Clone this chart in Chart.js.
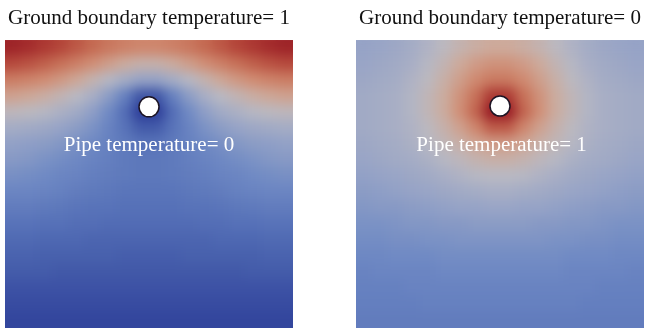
<!DOCTYPE html>
<html>
<head>
<meta charset="utf-8">
<script src="https://cdn.jsdelivr.net/npm/chart.js@4.4.0/dist/chart.umd.min.js"></script>
<style>
body { margin: 0; background: #fff; }
#wrap { position: relative; width: 645px; height: 329px; }
#wrap canvas { position: absolute; top: 0; }
</style>
</head>
<body>
<div id="wrap">
  <canvas id="left" width="322" height="329" style="left:0"></canvas>
  <canvas id="right" width="323" height="329" style="left:322px"></canvas>
</div>
<script>
var titles = ["Ground boundary temperature= 1", "Ground boundary temperature= 0"];
var pipeLabels = ["Pipe temperature= 0", "Pipe temperature= 1"];
var pipeX = [9.0, 9.0];
var pipeY = [4.17, 4.12];
var labelX = [9.0, 9.1];
var labelY = [6.95, 6.95];

// temperature on an 18 x 18 grid, row 0 = ground surface
var coldPipe = [
  [.97,.95,.92,.89,.85,.81,.77,.74,.72,.72,.74,.77,.81,.85,.89,.92,.95,.97],
  [.88,.86,.83,.79,.74,.69,.64,.59,.56,.56,.59,.64,.69,.74,.79,.83,.86,.88],
  [.75,.73,.70,.66,.61,.55,.49,.44,.40,.40,.44,.49,.55,.61,.66,.70,.73,.75],
  [.63,.61,.58,.54,.50,.45,.37,.26,.08,.08,.26,.37,.45,.50,.54,.58,.61,.63],
  [.52,.51,.49,.46,.43,.38,.30,.18,.00,.00,.18,.30,.38,.43,.46,.49,.51,.52],
  [.44,.43,.42,.40,.37,.33,.27,.20,.10,.10,.20,.27,.33,.37,.40,.42,.43,.44],
  [.39,.38,.37,.35,.32,.29,.26,.23,.20,.20,.23,.26,.29,.32,.35,.37,.38,.39],
  [.36,.35,.33,.31,.29,.27,.25,.23,.22,.22,.23,.25,.27,.29,.31,.33,.35,.36],
  [.32,.31,.30,.28,.27,.25,.24,.23,.22,.22,.23,.24,.25,.27,.28,.30,.31,.32],
  [.28,.28,.27,.26,.24,.23,.22,.21,.21,.21,.21,.22,.23,.24,.26,.27,.28,.28],
  [.24,.24,.23,.22,.21,.20,.20,.19,.19,.19,.19,.20,.20,.21,.22,.23,.24,.24],
  [.20,.20,.19,.19,.18,.18,.17,.17,.17,.17,.17,.17,.18,.18,.19,.19,.20,.20],
  [.16,.16,.15,.15,.15,.14,.14,.14,.14,.14,.14,.14,.14,.15,.15,.15,.16,.16],
  [.13,.13,.12,.12,.12,.12,.12,.11,.11,.11,.11,.12,.12,.12,.12,.12,.13,.13],
  [.10,.10,.10,.09,.09,.09,.09,.09,.09,.09,.09,.09,.09,.09,.09,.10,.10,.10],
  [.07,.07,.07,.07,.07,.07,.07,.07,.07,.07,.07,.07,.07,.07,.07,.07,.07,.07],
  [.05,.05,.05,.05,.05,.05,.05,.05,.05,.05,.05,.05,.05,.05,.05,.05,.05,.05],
  [.03,.03,.03,.03,.03,.03,.03,.03,.03,.03,.03,.03,.03,.03,.03,.03,.03,.03]
];

var hotPipe = [
  [.40,.41,.42,.44,.47,.51,.55,.58,.60,.60,.58,.55,.51,.47,.44,.42,.41,.40],
  [.41,.42,.43,.45,.49,.54,.60,.65,.68,.68,.65,.60,.54,.49,.45,.43,.42,.41],
  [.42,.43,.44,.47,.51,.57,.64,.71,.76,.76,.71,.64,.57,.51,.47,.44,.43,.42],
  [.43,.44,.45,.48,.53,.59,.68,.79,.92,.92,.79,.68,.59,.53,.48,.45,.44,.43],
  [.43,.44,.45,.48,.53,.59,.69,.82,1.0,1.0,.82,.69,.59,.53,.48,.45,.44,.43],
  [.43,.44,.45,.47,.51,.56,.63,.72,.84,.84,.72,.63,.56,.51,.47,.45,.44,.43],
  [.42,.43,.44,.46,.49,.53,.57,.62,.65,.65,.62,.57,.53,.49,.46,.44,.43,.42],
  [.41,.42,.43,.44,.46,.49,.52,.55,.57,.57,.55,.52,.49,.46,.44,.43,.42,.41],
  [.39,.40,.41,.42,.43,.45,.47,.49,.50,.50,.49,.47,.45,.43,.42,.41,.40,.39],
  [.37,.38,.39,.40,.41,.42,.43,.44,.45,.45,.44,.43,.42,.41,.40,.39,.38,.37],
  [.35,.36,.36,.37,.38,.39,.40,.40,.41,.41,.40,.40,.39,.38,.37,.36,.36,.35],
  [.33,.33,.34,.35,.35,.36,.36,.37,.37,.37,.37,.36,.36,.35,.35,.34,.33,.33],
  [.31,.31,.32,.32,.33,.33,.34,.34,.34,.34,.34,.34,.33,.33,.32,.32,.31,.31],
  [.29,.29,.30,.30,.30,.31,.31,.31,.31,.31,.31,.31,.31,.30,.30,.30,.29,.29],
  [.27,.28,.28,.28,.28,.29,.29,.29,.29,.29,.29,.29,.29,.28,.28,.28,.28,.27],
  [.26,.26,.26,.27,.27,.27,.27,.27,.27,.27,.27,.27,.27,.27,.27,.26,.26,.26],
  [.25,.25,.25,.25,.26,.26,.26,.26,.26,.26,.26,.26,.26,.26,.25,.25,.25,.25],
  [.24,.24,.24,.24,.24,.24,.24,.24,.24,.24,.24,.24,.24,.24,.24,.24,.24,.24]
];

// cool-to-warm colour ramp
var rampStops = [0, .1, .2, .3, .4, .5, .6, .7, .8, .9, 1];
var rampColors = [
  [44,60,152], [68,92,170], [88,115,185], [112,138,196], [150,163,198],
  [185,185,195], [205,170,155], [208,140,115], [198,110,85], [178,65,55], [150,25,35]
];

function colorOf(v) {
  for (var i = 1; i < rampStops.length; i++) {
    if (v <= rampStops[i]) {
      var f = (v - rampStops[i-1]) / (rampStops[i] - rampStops[i-1]);
      var a = rampColors[i-1], b = rampColors[i];
      return 'rgb(' + Math.round(a[0] + (b[0]-a[0])*f) + ',' + Math.round(a[1] + (b[1]-a[1])*f) + ',' + Math.round(a[2] + (b[2]-a[2])*f) + ')';
    }
  }
  var c = rampColors[rampColors.length-1];
  return 'rgb(' + c[0] + ',' + c[1] + ',' + c[2] + ')';
}

function cellPoints(field) {
  var pts = [];
  for (var r = 0; r < field.length; r++) {
    for (var c = 0; c < field[r].length; c++) {
      pts.push({x: c + 0.5, y: r + 0.5, v: field[r][c]});
    }
  }
  return pts;
}

// soften the cell edges so the field reads as a continuous solution
var smoothField = {
  id: 'smoothField',
  afterDatasetDraw: function(chart, args) {
    if (args.index !== 0) return;
    var a = chart.chartArea, ctx = chart.ctx, src = chart.canvas;
    var l = Math.round(a.left), t = Math.round(a.top);
    var w = Math.round(a.right - a.left), h = Math.round(a.bottom - a.top);
    var m = 16;
    var off = document.createElement('canvas');
    off.width = w + 2*m; off.height = h + 2*m;
    var o = off.getContext('2d');
    o.drawImage(src, l, t, w, h, m, m, w, h);
    o.drawImage(src, l, t, 1, h, 0, m, m, h);
    o.drawImage(src, l + w - 1, t, 1, h, m + w, m, m, h);
    o.drawImage(off, 0, m, w + 2*m, 1, 0, 0, w + 2*m, m);
    o.drawImage(off, 0, m + h - 1, w + 2*m, 1, 0, m + h, w + 2*m, m);
    ctx.save();
    ctx.beginPath();
    ctx.rect(l, t, w, h);
    ctx.clip();
    ctx.filter = 'blur(6px)';
    ctx.drawImage(off, l - m, t - m);
    ctx.restore();
  }
};

var pipeText = {
  id: 'pipeText',
  afterDatasetsDraw: function(chart, args, opts) {
    var ctx = chart.ctx;
    var x = chart.scales.x.getPixelForValue(opts.x);
    var y = chart.scales.y.getPixelForValue(opts.y);
    ctx.save();
    ctx.font = '21px "Liberation Serif"';
    ctx.fillStyle = '#fff';
    ctx.textAlign = 'center';
    ctx.textBaseline = 'alphabetic';
    ctx.fillText(opts.text, x, y);
    ctx.restore();
  }
};

function drawPanel(id, k, field, padLeft, padRight) {
  new Chart(document.getElementById(id), {
    type: 'scatter',
    data: {
      datasets: [{
        data: cellPoints(field),
        order: 2,
        pointStyle: 'rect',
        pointRadius: function(c) {
          var a = c.chart.chartArea;
          return a ? ((a.right - a.left) / 18 + 1) / Math.SQRT2 : 12;
        },
        pointBackgroundColor: function(c) { return colorOf(c.raw ? c.raw.v : 0); },
        pointBorderWidth: 0
      }, {
        data: [{x: pipeX[k], y: pipeY[k]}],
        order: 1,
        pointRadius: 10,
        pointBackgroundColor: '#fff',
        pointBorderColor: '#1c1424',
        pointBorderWidth: 1.5
      }]
    },
    options: {
      responsive: false,
      animation: false,
      events: [],
      layout: { autoPadding: false, padding: { left: padLeft, right: padRight, top: 0, bottom: 1 } },
      scales: {
        x: { type: 'linear', min: 0, max: 18, display: false },
        y: { type: 'linear', min: 0, max: 18, reverse: true, display: false }
      },
      plugins: {
        legend: { display: false },
        tooltip: { enabled: false },
        title: {
          display: true,
          text: titles[k],
          color: '#111',
          font: { family: 'Liberation Serif', size: 21, weight: 'normal' },
          padding: { top: 6, bottom: 9 }
        },
        pipeText: { x: labelX[k], y: labelY[k], text: pipeLabels[k] }
      }
    },
    plugins: [smoothField, pipeText]
  });
}

drawPanel('left', 0, coldPipe, 5, 29);
drawPanel('right', 1, hotPipe, 34, 1);
</script>
</body>
</html>
